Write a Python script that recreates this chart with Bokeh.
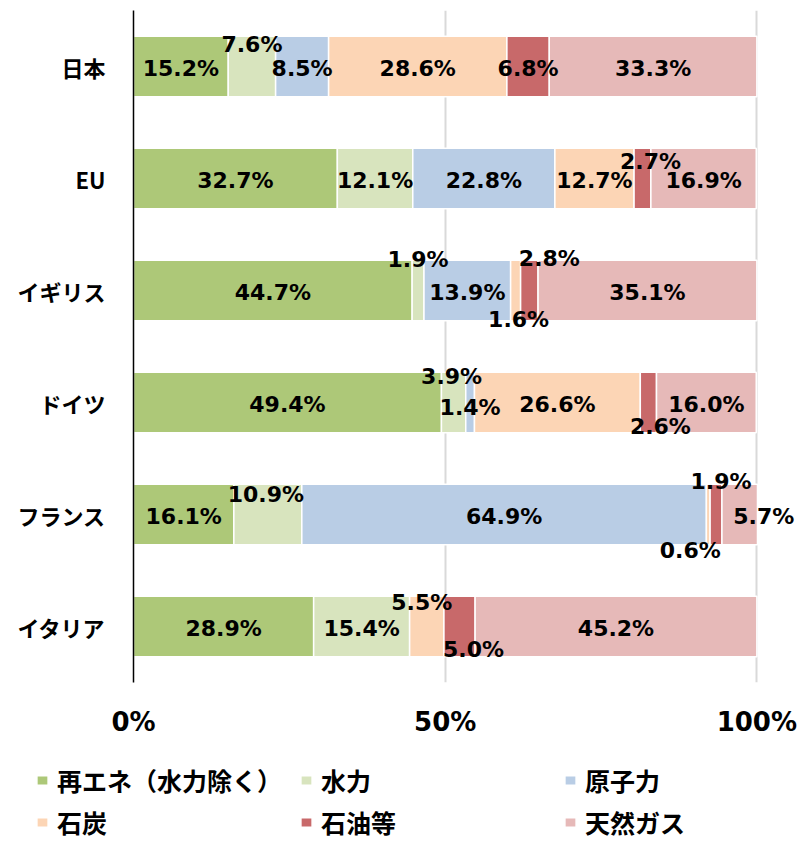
from bokeh.plotting import figure
from bokeh.models import ColumnDataSource, FixedTicker, Legend, LegendItem
from bokeh.layouts import column
from bokeh.core.properties import value
from bokeh.embed import file_html
from bokeh.resources import INLINE

# ---- data ----
countries = ["日本", "EU", "イギリス", "ドイツ", "フランス", "イタリア"]
series_names = ["再エネ（水力除く）", "水力", "原子力", "石炭", "石油等", "天然ガス"]
renewables = [15.2, 32.7, 44.7, 49.4, 16.1, 28.9]
hydro = [7.6, 12.1, 1.9, 3.9, 10.9, 15.4]
nuclear = [8.5, 22.8, 13.9, 1.4, 64.9, 0.0]
coal = [28.6, 12.7, 1.6, 26.6, 0.6, 5.5]
oil = [6.8, 2.7, 2.8, 2.6, 1.9, 5.0]
gas = [33.3, 16.9, 35.1, 16.0, 5.7, 45.2]
x_ticks = [0, 50, 100]
x_tick_labels = ["0%", "50%", "100%"]

colors = ["#ADC878", "#D8E4BE", "#B9CDE5", "#FCD5B5", "#C8696A", "#E6B9B8"]
keys = ["re", "hy", "nu", "co", "oi", "ga"]
all_series = [renewables, hydro, nuclear, coal, oil, gas]

data = {"country": countries}
for k, s in zip(keys, all_series):
    data[k] = s
src = ColumnDataSource(data)

# label offsets in screen px (dx, dy; dy>0 = down), default (0, 2)
label_offsets = {
    ("日本", "hy"): (0, -22),
    ("EU", "oi"): (8, -17),
    ("イギリス", "hy"): (0, -31),
    ("イギリス", "co"): (3, 29),
    ("イギリス", "oi"): (20, -32),
    ("ドイツ", "hy"): (-2, -26),
    ("ドイツ", "nu"): (0, 5),
    ("ドイツ", "oi"): (12, 24),
    ("フランス", "hy"): (-2, -20),
    ("フランス", "co"): (-18, 36),
    ("フランス", "oi"): (5, -33),
    ("フランス", "ga"): (24, 2),
    ("イタリア", "co"): (-5, -24),
    ("イタリア", "oi"): (14, 23),
}

lx, ly, lt, ldx, ldy = [], [], [], [], []
for i, c in enumerate(countries):
    cum = 0.0
    for k, s in zip(keys, all_series):
        v = s[i]
        if v > 0:
            lx.append(cum + v / 2)
            ly.append(c)
            lt.append(f"{v:.1f}%")
            dx, dy = label_offsets.get((c, k), (0, 2))
            ldx.append(dx)
            ldy.append(dy)
        cum += v
lsrc = ColumnDataSource(dict(x=lx, y=ly, t=lt, dx=ldx, dy=ldy))

# ---- main chart ----
p = figure(
    width=802, height=752,
    y_range=list(reversed(countries)),
    x_range=(0, 107.0),
    output_backend="svg", toolbar_location=None,
    min_border_left=133, min_border_right=2, min_border_top=10, min_border_bottom=70,
)
p.frame_align = False
p.outline_line_color = None
p.background_fill_color = "white"

p.hbar_stack(
    keys, y="country", height=0.54, color=colors, source=src,
    line_color="white", line_width=1.5,
)

p.text(
    x="x", y="y", text="t", x_offset="dx", y_offset="dy", source=lsrc,
    text_align="center", text_baseline="middle",
    text_font=value("DejaVu Sans"), text_font_style="bold", text_font_size="22px",
    text_color="black",
)

p.xaxis.ticker = FixedTicker(ticks=x_ticks)
p.xaxis.major_label_overrides = {t: l for t, l in zip(x_ticks, x_tick_labels)}
p.xaxis.axis_line_color = None
p.xaxis.major_tick_line_color = None
p.xaxis.minor_tick_line_color = None
p.xaxis.major_label_text_font = "DejaVu Sans"
p.xaxis.major_label_text_font_style = "bold"
p.xaxis.major_label_text_font_size = "26px"
p.xaxis.major_label_text_color = "black"
p.xaxis.major_label_standoff = 18

p.yaxis.axis_line_color = "black"
p.yaxis.axis_line_width = 1.5
p.yaxis.major_tick_line_color = None
p.yaxis.minor_tick_line_color = None
p.yaxis.major_label_text_font = "Noto Sans CJK JP"
p.yaxis.major_label_text_font_style = "bold"
p.yaxis.major_label_text_font_size = "22px"
p.yaxis.major_label_text_color = "black"
p.yaxis.major_label_standoff = 22

p.xgrid.ticker = FixedTicker(ticks=x_ticks)
p.xgrid.grid_line_color = "#D9D9D9"
p.xgrid.grid_line_width = 2
p.ygrid.grid_line_color = None

# ---- legend panel (same series, bars hidden; only the legend is shown) ----
pl = figure(
    width=802, height=90,
    y_range=list(reversed(countries)), x_range=(0, 107.0),
    output_backend="svg", toolbar_location=None, min_border=0,
)
pl.frame_align = False
pl.axis.visible = False
pl.grid.visible = False
pl.outline_line_color = None
lrend = pl.hbar_stack(
    keys, y="country", height=0.54, color=colors, source=src,
    line_color="white", line_width=1.5,
)
for r in lrend:
    r.visible = False

items = [LegendItem(label=n, renderers=[r]) for n, r in zip(series_names, lrend)]
legend = Legend(
    items=items, ncols=3, orientation="horizontal",
    location=(35, 0),
    label_text_font="Noto Sans CJK JP", label_text_font_style="bold",
    label_text_font_size="25px", label_text_color="black",
    glyph_width=14, glyph_height=12, label_standoff=8, label_width=240,
    label_height=40, spacing=2, padding=0, margin=0,
    border_line_color=None, background_fill_alpha=0,
)
pl.add_layout(legend, "center")

layout = column(p, pl, spacing=0)
open("out.html", "w").write(file_html(layout, INLINE))
